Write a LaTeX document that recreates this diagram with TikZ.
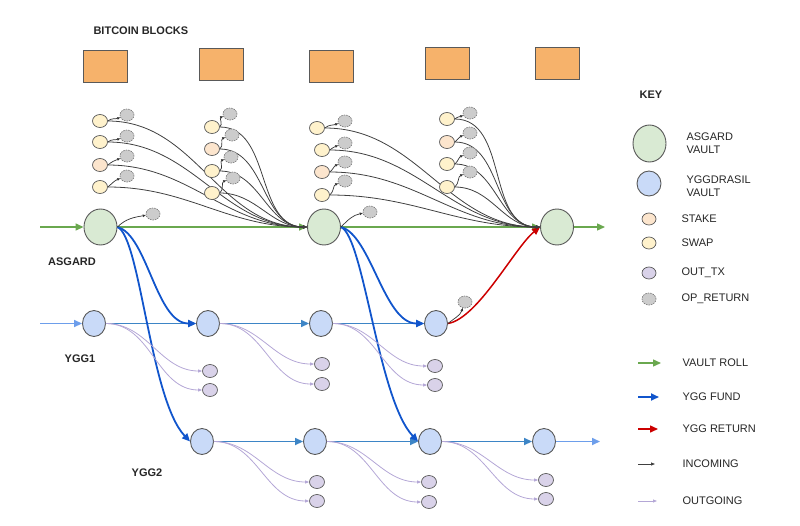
\documentclass[tikz,border=0pt]{standalone}
\usepackage{fontspec}
\setmainfont{Liberation Sans}
\usepackage{xcolor}
\usepackage{tikz}
\usetikzlibrary{arrows.meta,shapes.geometric}

\definecolor{asgfill}{HTML}{D9EAD3}
\definecolor{yggfill}{HTML}{C9DAF8}
\definecolor{stakefill}{HTML}{FCE5CD}
\definecolor{swapfill}{HTML}{FFF2CC}
\definecolor{outfill}{HTML}{D9D2E9}
\definecolor{opfill}{HTML}{CCCCCC}
\definecolor{blockfill}{HTML}{F6B26B}
\definecolor{rollgreen}{HTML}{6AA84F}
\definecolor{fundblue}{HTML}{1155CC}
\definecolor{chainblue}{HTML}{3D85C6}
\definecolor{lightblue}{HTML}{6D9EEB}
\definecolor{retred}{HTML}{CC0000}
\definecolor{outlav}{HTML}{B4A7D6}
\definecolor{edgegray}{HTML}{595959}

\begin{document}
\begin{tikzpicture}[x=1pt, y=-1pt,
    font=\fontsize{11}{13}\selectfont, text=black!85,
    vault/.style={ellipse, draw=edgegray, line width=0.9pt, inner sep=0pt},
    asgard/.style={vault, fill=asgfill, minimum width=33pt, minimum height=36pt},
    ygg/.style={vault, fill=yggfill, minimum width=23pt, minimum height=26pt},
    tx/.style={ellipse, draw=edgegray, line width=0.7pt, inner sep=0pt, minimum width=15pt, minimum height=13pt},
    stakeel/.style={tx, fill=stakefill},
    swapel/.style={tx, fill=swapfill},
    outtx/.style={tx, fill=outfill},
    opret/.style={tx, fill=opfill, draw=gray, dash pattern=on 1.5pt off 1pt, minimum width=14pt, minimum height=12pt},
    block/.style={draw=edgegray, fill=blockfill, minimum width=44pt, minimum height=32pt, inner sep=0pt},
    roll/.style={rollgreen, line width=1.4pt, -{Triangle[length=8pt,width=7pt]}},
    fund/.style={fundblue, line width=1.8pt, -{Triangle[length=8pt,width=7pt]}},
    yggchain/.style={chainblue, line width=1.6pt, -{Triangle[length=8pt,width=7pt]}},
    back/.style={retred, line width=1.5pt, -{Triangle[length=8pt,width=7pt]}},
    incoming/.style={black!75, line width=0.8pt, -{Triangle[length=4pt,width=3pt]}},
    outgoing/.style={outlav, line width=0.8pt, -{Triangle[length=4pt,width=3pt]}},
    opline/.style={black!80, line width=0.7pt, -{Triangle[length=3pt,width=2.5pt]}},
    rowname/.style={font=\fontsize{11}{13}\selectfont\bfseries}]
\useasboundingbox (0,0) rectangle (800,525);

% blocks
\foreach \i/\x/\y in {1/105/66, 2/221/64.5, 3/331/66, 4/447/63.5, 5/557/63.5}
    \node[block] (b\i) at (\x,\y) {};
\node[rowname, anchor=west] (blocks) at (90,31) {BITCOIN BLOCKS};

% vaults
\node[asgard] (a1) at (100.5,227) {};
\node[asgard] (a2) at (324,227) {};
\node[asgard] (a3) at (557,227) {};
\foreach \i/\x in {1/94, 2/208, 3/321, 4/436}
    \node[ygg] (ya\i) at (\x,323.5) {};
\foreach \i/\x in {1/202, 2/315, 3/430, 4/544}
    \node[ygg] (yb\i) at (\x,441.5) {};
\node[rowname] (asg) at (72,262) {ASGARD};
\node[rowname] (ygg1) at (80,359) {YGG1};
\node[rowname] (ygg2) at (147,473) {YGG2};

% vault roll
\coordinate (rin) at (40,227);
\coordinate (rout) at (605,227);
\draw[roll] (rin) -- (a1);
\draw[roll] (a1) -- (a2);
\draw[roll] (a2) -- (a3);
\draw[roll] (a3) -- (rout);

% ygg chains
\coordinate (yain) at (40,323.5);
\coordinate (ybout) at (600,441.5);
\draw[yggchain, lightblue] (yain) -- (ya1);
\draw[yggchain] (ya1) -- (ya2);
\draw[yggchain] (ya2) -- (ya3);
\draw[yggchain] (ya3) -- (ya4);
\draw[yggchain] (yb1) -- (yb2);
\draw[yggchain] (yb2) -- (yb3);
\draw[yggchain] (yb3) -- (yb4);
\draw[yggchain, lightblue] (yb4) -- (ybout);

% funding and return
\draw[fund] (a1.east) .. controls +(30,8) and +(-40,0) .. (ya2.west);
\draw[fund] (a1.east) .. controls +(23,10) and +(-40,-42) .. (yb1.west);
\draw[fund] (a2.east) .. controls +(30,8) and +(-40,0) .. (ya4.west);
\draw[fund] (a2.east) .. controls +(23,10) and +(-40,-42) .. (yb3.west);
\draw[back] (ya4.east) .. controls +(30,-5) and +(-25,20) .. (a3.west);

% op returns of vaults
\node[opret] (ar1) at (153,214) {};
\node[opret] (ar2) at (370,212) {};
\node[opret] (ar3) at (465,302) {};
\draw[opline] (a1.east) to[out=45,in=190] (ar1);
\draw[opline] (a2.east) to[out=45,in=190] (ar2);
\draw[opline] (ya4.east) to[out=40,in=250] (ar3);

% incoming txs
\foreach \n/\x/\y/\k/\ox/\oy/\dst in {
    1/100/121/swapel/127/115/a2, 2/100/142/swapel/127/136/a2,
    3/100/165/stakeel/127/156/a2, 4/100/187/swapel/127/176/a2,
    5/212/127/swapel/230/114/a2, 6/212/149/stakeel/232/135/a2,
    7/212/171/swapel/231/157/a2, 8/212/193/swapel/233/178/a2,
    9/317/128/swapel/345/121/a3, 10/322/150/swapel/345/143/a3,
    11/322/172/stakeel/345/162/a3, 12/322/195/swapel/345/181/a3,
    13/447/119/swapel/470/113/a3, 14/447/142/stakeel/470/133/a3,
    15/447/164/swapel/470/153/a3, 16/447/187/swapel/470/172/a3} {
    \node[\k] (s\n) at (\x,\y) {};
    \node[opret] (r\n) at (\ox,\oy) {};
    \draw[opline] (s\n.east) to[out=40,in=200] (r\n);
    \draw[incoming] (s\n.east) to[out=0,in=180] (\dst.west);
}

% outgoing txs
\foreach \src/\x/\y [count=\i] in {ya1/210/371, ya1/210/390, ya2/322/364, ya2/322/384,
    ya3/435/366, ya3/435/385, yb1/317/482, yb1/317/501, yb2/429/482, yb2/429/502,
    yb3/546/480, yb3/546/499} {
    \node[outtx] (o\i) at (\x,\y) {};
    \draw[outgoing] (\src.east) to[out=0,in=180] (o\i.west);
}

% key
\node[rowname] (key) at (651,95) {KEY};
\node[asgard, minimum height=37pt] (ka) at (649.5,143.5) {};
\node[anchor=west, align=left] (kat) at (683,143.5) {ASGARD\\VAULT};
\node[ygg, minimum width=24pt, minimum height=25pt] (ky) at (649,183.5) {};
\node[anchor=west, align=left] (kyt) at (683,186) {YGGDRASIL\\VAULT};
\foreach \i/\y/\k/\txt in {1/219/stakeel/STAKE, 2/243/swapel/SWAP, 3/273/outtx/OUT\_TX, 4/299/opret/OP\_RETURN} {
    \node[\k, minimum width=14pt, minimum height=12pt] (kn\i) at (649,\y) {};
    \node[anchor=west] (kt\i) at (678,\y) {\txt};
}
\foreach \i/\y/\st/\len/\txt in {1/363/roll/23/VAULT ROLL, 2/397/fund/21/YGG FUND,
    3/429/back/20/YGG RETURN, 4/464/incoming/17/INCOMING, 5/501/outgoing/19/OUTGOING} {
    \coordinate (l\i) at (638,\y);
    \coordinate (m\i) at (638+\len,\y);
    \draw[\st] (l\i) -- (m\i);
    \node[anchor=west] (t\i) at (679,\y) {\txt};
}
\end{tikzpicture}
\end{document}
